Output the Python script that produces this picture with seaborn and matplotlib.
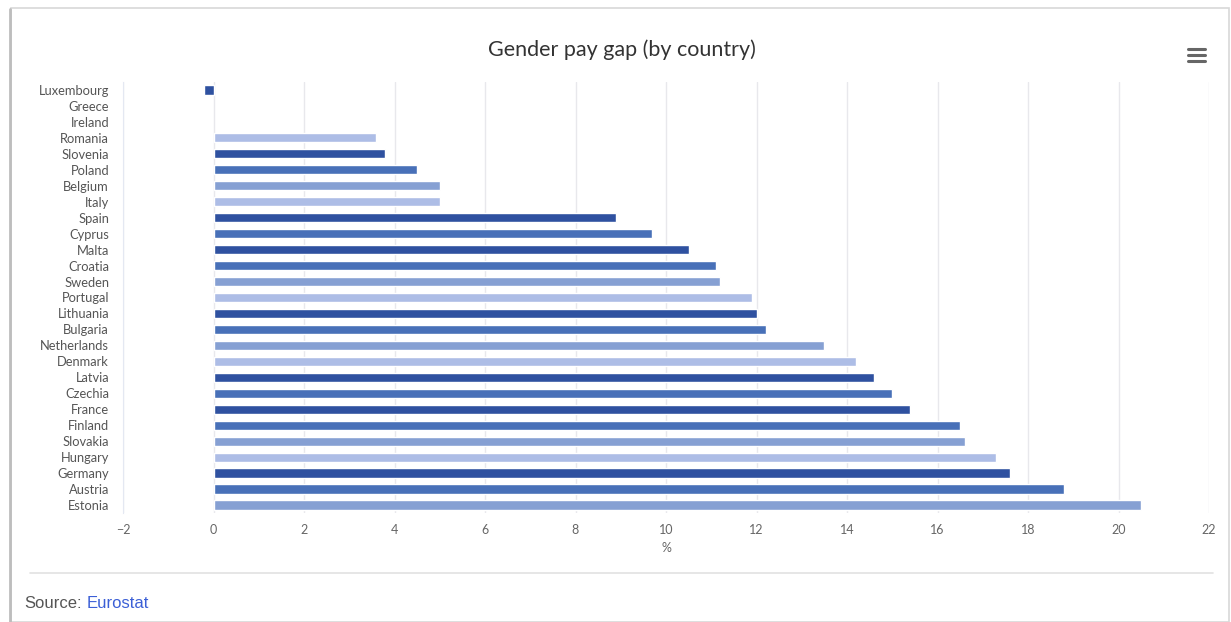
import matplotlib.pyplot as plt
import numpy as np
import pandas as pd
import seaborn as sns
from matplotlib.lines import Line2D
from matplotlib.patches import Rectangle

countries = [
    "Luxembourg", "Greece", "Ireland", "Romania", "Slovenia", "Poland",
    "Belgium", "Italy", "Spain", "Cyprus", "Malta", "Croatia", "Sweden",
    "Portugal", "Lithuania", "Bulgaria", "Netherlands", "Denmark", "Latvia",
    "Czechia", "France", "Finland", "Slovakia", "Hungary", "Germany",
    "Austria", "Estonia",
]
gap = [
    -0.2, np.nan, np.nan, 3.6, 3.8, 4.5, 5.0, 5.0, 8.9, 9.7, 10.5, 11.1,
    11.2, 11.9, 12.0, 12.2, 13.5, 14.2, 14.6, 15.0, 15.4, 16.5, 16.6, 17.3,
    17.6, 18.8, 20.5,
]
shade = [
    "d", "d", "d", "l", "d", "m", "ml", "l", "d", "m", "d", "m", "ml",
    "l", "d", "m", "ml", "l", "d", "m", "d", "m", "ml", "l", "d", "m", "ml",
]
xticks = list(range(-2, 23, 2))

palette = {"d": "#2f51a0", "m": "#4870b8", "ml": "#86a0d3", "l": "#adbde6"}

df = pd.DataFrame({"country": countries, "gap": gap, "shade": shade})

sns.set_style("white")
plt.rcParams["font.family"] = ["Lato", "DejaVu Sans"]

fig = plt.figure(figsize=(12.31, 6.22), dpi=100)
ax = fig.add_axes([123 / 1231, 1 - 513 / 622, 1086 / 1231, 431 / 622])

# card outline with a soft shadow on the left
fig.add_artist(Rectangle((11 / 1231, 0), 1218 / 1231, 1 - 8 / 622,
                         transform=fig.transFigure, fill=False,
                         edgecolor="#d8d8d8", linewidth=1.2))
fig.add_artist(Line2D([10 / 1231, 10 / 1231], [0, 1 - 9 / 622],
                      transform=fig.transFigure, color="#bdbdbd", lw=2))

sns.barplot(
    df, y="country", x="gap", hue="shade", palette=palette,
    order=countries, dodge=False, width=0.58, legend=False, ax=ax,
    saturation=1,
)

ax.set_xlim(-2, 22)
ax.set_xticks(xticks)
ax.grid(axis="x", color="#e8e8ec", linewidth=1)
ax.set_axisbelow(True)
for side in ("top", "right", "bottom"):
    ax.spines[side].set_visible(False)
ax.spines["left"].set_color("#e4e8f2")
ax.tick_params(axis="x", colors="#666666", labelsize=9, length=0, pad=8)
ax.tick_params(axis="y", colors="#555555", labelsize=9.3, length=0, pad=10)
ax.set_ylabel(None)
ax.set_xlabel("%", color="#666666", fontsize=9, labelpad=4)

fig.text(622 / 1231, 1 - 50 / 622, "Gender pay gap (by country)",
         ha="center", va="center", fontsize=15.5, color="#333333")

# hamburger menu icon
for yy in (49, 55, 61):
    fig.add_artist(Line2D([1188 / 1231, 1205 / 1231],
                          [1 - yy / 622, 1 - yy / 622],
                          transform=fig.transFigure, color="#666666", lw=2.2))

# separator and source line
fig.add_artist(Line2D([30 / 1231, 1213 / 1231], [1 - 573 / 622, 1 - 573 / 622],
                      transform=fig.transFigure, color="#e2e2e2", lw=1.2))
fig.text(24 / 1231, 1 - 603 / 622, "Source:", ha="left", va="center",
         fontsize=12, color="#555555", family=["Liberation Sans", "DejaVu Sans"])
fig.text(87 / 1231, 1 - 603 / 622, "Eurostat", ha="left", va="center",
         fontsize=12, color="#3b5fd6", family=["Liberation Sans", "DejaVu Sans"])

fig.savefig("out.png", dpi=100)
